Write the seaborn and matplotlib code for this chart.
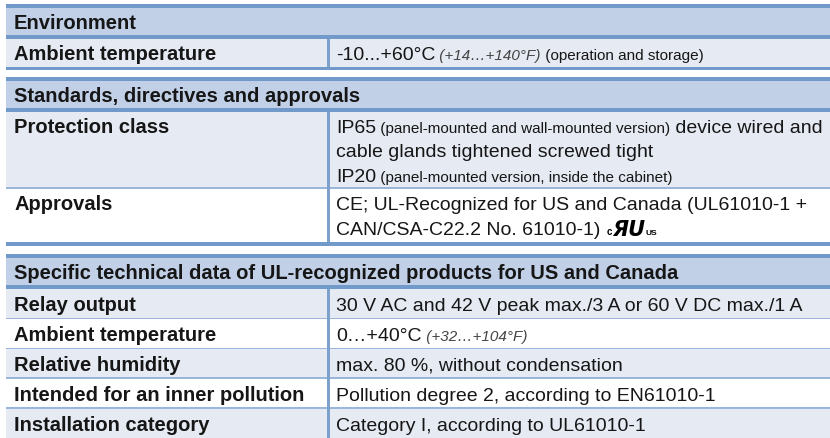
"""Environment / approvals spec sheet table drawn with matplotlib patches and text."""

import matplotlib

matplotlib.use("Agg")
import matplotlib.pyplot as plt
import seaborn as sns
from matplotlib.patches import Rectangle

# --- content -----------------------------------------------------------------
section_titles = [
    "Environment",
    "Standards, directives and approvals",
    "Specific technical data of UL-recognized products for US and Canada",
]
row_section = [0, 1, 1, 2, 2, 2, 2, 2]
row_labels = [
    "Ambient temperature",
    "Protection class",
    "Approvals",
    "Relay output",
    "Ambient temperature",
    "Relative humidity",
    "Intended for an inner pollution",
    "Installation category",
]
# each value: list of lines, each line: list of (text, kind)
row_values = [
    [[("-10...+60°C", "main"), (" (+14…+140°F)", "note"), (" (operation and storage)", "small")]],
    [
        [("IP65", "main"), (" (panel-mounted and wall-mounted version)", "small"), (" device wired and", "main")],
        [("cable glands tightened screwed tight", "main")],
        [("IP20", "main"), (" (panel-mounted version, inside the cabinet)", "small")],
    ],
    [
        [("CE; UL-Recognized for US and Canada (UL61010-1 +", "main")],
        [("CAN/CSA-C22.2 No. 61010-1)", "main"), ("UL", "mark")],
    ],
    [[("30 V AC and 42 V peak max./3 A or 60 V DC max./1 A", "main")]],
    [[("0…+40°C", "main"), (" (+32…+104°F)", "note")]],
    [[("max. 80 %, without condensation", "main")]],
    [[("Pollution degree 2, according to EN61010-1", "main")]],
    [[("Category I, according to UL61010-1", "main")]],
]

# --- layout (pixels) -----------------------------------------------------------
W, H = 830, 439
LEFT, RIGHT, DIVIDER = 6, 830, 328
LABEL_X, VALUE_X = 14, 336
HEADER_H, THICK, THIN = 34.5, 3.5, 1.5
ROW_H = [28, 76.5, 54, 29.9, 29.9, 29.9, 29.9, 29.9]
SECTION_TOP = [5, 78, 255]
LINE_STEP, BASE_OFF = 24.5, 6.5

HEADER_BG = "#c1d0e6"
LINE_C = "#7199c9"
THIN_C = "#9bb6db"
DIV_C = "#7da0cd"
LIGHT_BG = "#e6eaf3"
TEXT_C = "#161616"

STYLE = {
    "main": dict(fontsize=14, color=TEXT_C),
    "small": dict(fontsize=11, color=TEXT_C),
    "note": dict(fontsize=11, color="#444444", style="italic"),
}

sns.set_theme(style="white")
plt.rcParams["font.family"] = ["Liberation Sans", "DejaVu Sans"]

fig = plt.figure(figsize=(W / 100, H / 100), dpi=100)
ax = fig.add_axes([0, 0, 1, 1])
ax.set_xlim(0, W)
ax.set_ylim(H, 0)
ax.axis("off")
renderer = fig.canvas.get_renderer()


def band(y0, y1, color, z=1):
    ax.add_patch(Rectangle((LEFT, y0), RIGHT - LEFT, y1 - y0, color=color, lw=0, zorder=z))


def put(x, y, text, **kw):
    t = ax.text(x, y, text, va="baseline", ha="left", zorder=5, **kw)
    return x + t.get_window_extent(renderer=renderer).width


def draw_mark(x, y):
    # cRUus recognised-component mark, built from text
    x += 6
    x = put(x, y, "c", fontsize=7, fontweight="bold", color="black")
    x = put(x + 0.5, y + 1, "ЯU", fontsize=15, fontweight="bold", style="italic",
            color="black", family=["DejaVu Sans"])
    put(x + 0.5, y, "US", fontsize=6, fontweight="bold", color="black")


rows_by_section = {s: [i for i, r in enumerate(row_section) if r == s] for s in range(len(section_titles))}

for s, title in enumerate(section_titles):
    top = SECTION_TOP[s]
    band(top, top + HEADER_H, HEADER_BG)
    band(top, top + THICK, LINE_C, z=3)
    band(top + HEADER_H - THICK, top + HEADER_H, LINE_C, z=3)
    put(LABEL_X, top + HEADER_H / 2 + BASE_OFF, title, fontsize=14.5, fontweight="bold", color=TEXT_C)

    y = top + HEADER_H
    for k, i in enumerate(rows_by_section[s]):
        h = ROW_H[i]
        band(y, y + h, LIGHT_BG if k % 2 == 0 else "white")
        if k > 0:
            band(y - THIN / 2, y + THIN / 2, THIN_C, z=3)
        ax.add_patch(Rectangle((DIVIDER - 1.5, y), 3, h, color=DIV_C, lw=0, zorder=4))

        lines = row_values[i]
        first = y + (h - (len(lines) - 1) * LINE_STEP) / 2 + BASE_OFF
        put(LABEL_X, first, row_labels[i], fontsize=14.5, fontweight="bold", color=TEXT_C)
        for n, segments in enumerate(lines):
            base = first + n * LINE_STEP
            x = VALUE_X
            for text, kind in segments:
                if kind == "mark":
                    draw_mark(x, base)
                else:
                    x = put(x, base, text, **STYLE[kind])
        y += h

    if s < len(section_titles) - 1:
        band(y, y + THICK, LINE_C, z=3)

fig.savefig("out.png", dpi=100)
